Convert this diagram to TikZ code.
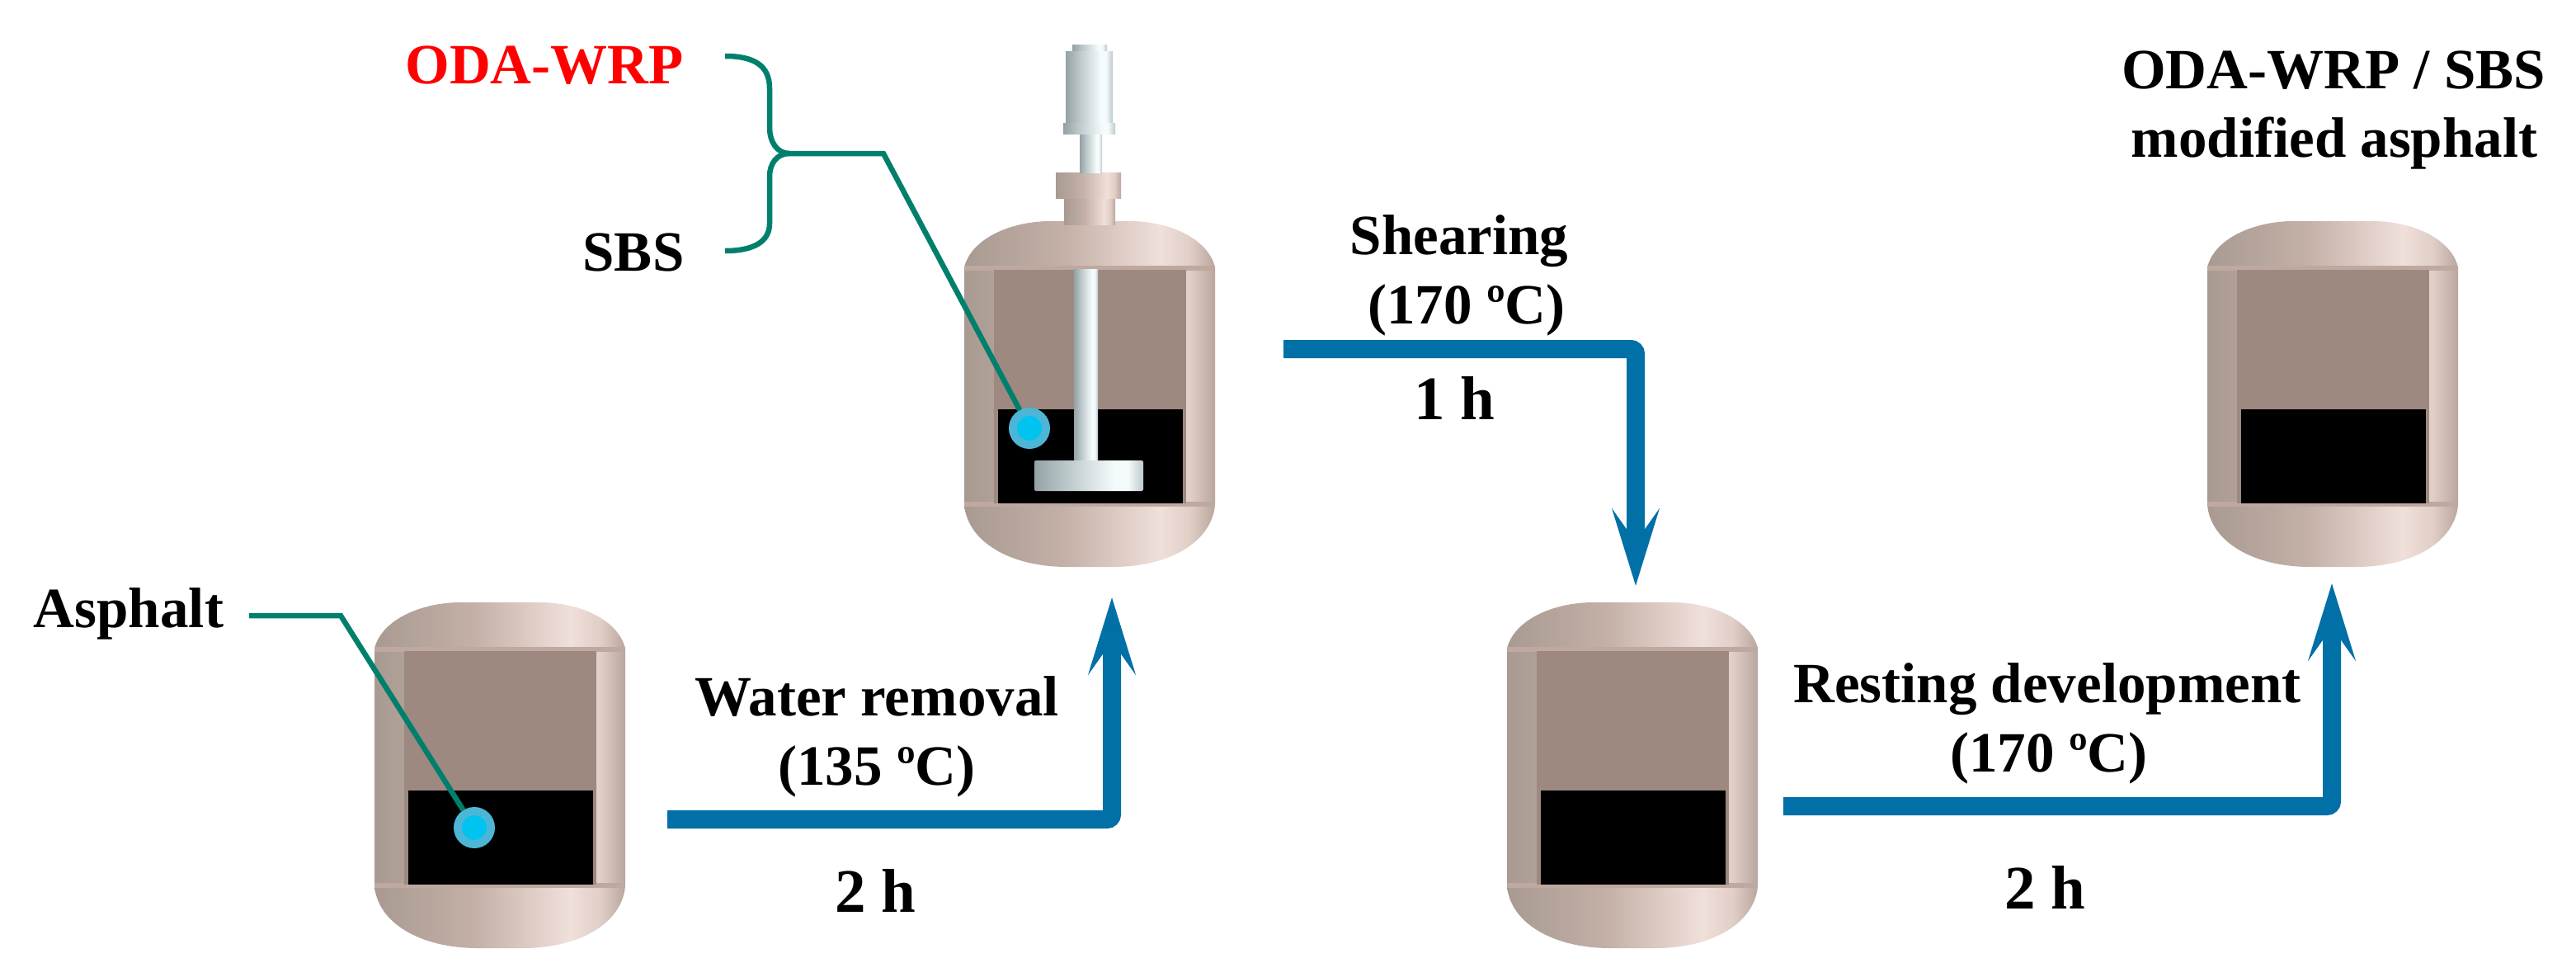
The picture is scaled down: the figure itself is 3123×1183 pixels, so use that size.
\documentclass[tikz,border=0pt]{standalone}
\usepackage{fontspec}
\setmainfont{Liberation Serif}
\usetikzlibrary{arrows.meta}
\definecolor{tankA}{HTML}{A89A92}
\definecolor{tankB}{HTML}{C4B0A7}
\definecolor{tankC}{HTML}{F0E0DA}
\definecolor{tankD}{HTML}{E0CEC7}
\definecolor{tankE}{HTML}{B9A69E}
\definecolor{steelA}{HTML}{95A2A5}
\definecolor{steelB}{HTML}{BCC8CA}
\definecolor{steelC}{HTML}{F5FBFC}
\definecolor{innerbrown}{HTML}{9D8980}
\definecolor{bandbrown}{HTML}{BFA89F}
\definecolor{leadgreen}{HTML}{00806C}
\definecolor{flowblue}{HTML}{0070A6}
\definecolor{blobouter}{HTML}{4DB6D6}
\definecolor{blobinner}{HTML}{00C3F0}
\pgfdeclarehorizontalshading{tankshade}{100bp}{color(0bp)=(tankA); color(25bp)=(tankA); color(45bp)=(tankB); color(64bp)=(tankC); color(70bp)=(tankD); color(75bp)=(tankE); color(100bp)=(tankE)}
\pgfdeclarehorizontalshading{steelshade}{100bp}{color(0bp)=(steelA); color(25bp)=(steelA); color(40bp)=(steelB); color(62bp)=(steelC); color(68bp)=(steelC); color(75bp)=(steelB); color(100bp)=(steelB)}
\tikzset{
  lab/.style={inner sep=0pt,anchor=base,font=\fontsize{69}{80}\selectfont\bfseries},
  timelab/.style={inner sep=0pt,anchor=base,font=\fontsize{75}{80}\selectfont\bfseries},
  leader/.style={draw=leadgreen,line width=6.5pt,line join=miter},
  flow/.style={draw=flowblue,line width=22pt,rounded corners=6pt,-{Stealth[length=93pt,width=57pt,inset=40pt]}},
  blob/.style={circle,fill=blobouter,inner sep=0pt,minimum size=50pt},
  blobcore/.style={circle,fill=blobinner,inner sep=0pt,minimum size=30pt},
  tankbody/.style={shading=tankshade},
  steel/.style={shading=steelshade},
}
\newcommand{\tankat}[2]{%
  \begin{scope}[shift={(#1,#2)}]
    \path[tankbody] (0,56) .. controls (8,22) and (55,0) .. (105,0) -- (200,0)
      .. controls (250,0) and (296,22) .. (304,56) -- (304,344)
      .. controls (300,388) and (250,419) .. (180,419) -- (125,419)
      .. controls (55,419) and (4,388) .. (0,344) -- cycle;
    \fill[bandbrown] (0,54) rectangle (304,60);
    \fill[bandbrown] (0,340) rectangle (304,346);
    \fill[innerbrown] (36,59) rectangle (269,342);
    \fill[black] (41,228) rectangle (265,342);
  \end{scope}}
\begin{document}
\begin{tikzpicture}[x=1pt,y=-1pt]
\useasboundingbox (0,0) rectangle (3123,1183);
\fill[white] (0,0) rectangle (3123,1183);
% tanks
\tankat{454}{730}
\tankat{1169}{268}
\tankat{1827}{730}
\tankat{2676}{268}
% stirrer
\path[tankbody] (1290,236) rectangle (1352,272);
\path[tankbody] (1280,209) rectangle (1359,240);
\path[steel] (1309,162) rectangle (1336,209);
\path[steel] (1300,54) rectangle (1342,66);
\path[steel] (1292,62) rectangle (1349,149);
\path[steel] (1289,149) rectangle (1352,162);
\path[steel] (1302,326) rectangle (1331,560);
\path[steel,rounded corners=2pt] (1254,558) rectangle (1386,595);
% markers
\node[blob] (blobA) at (575,1003) {};
\node[blobcore] (coreA) at (575,1003) {};
\node[blob] (blobB) at (1248,519) {};
\node[blobcore] (coreB) at (1248,519) {};
% leaders
\coordinate (aStart) at (302,746);
\coordinate (aBend) at (413,746);
\draw[leader] (aStart) -- (aBend) -- (blobA);
\coordinate (odaEnd) at (879,68);
\coordinate (sbsEnd) at (879,304);
\coordinate (hub) at (957,186);
\coordinate (hubBend) at (1071,186);
\draw[leader] (odaEnd) .. controls (915,68) and (933,80) .. (933,107) -- (933,154) .. controls (933,172) and (942,186) .. (hub);
\draw[leader] (sbsEnd) .. controls (915,304) and (933,292) .. (933,271) -- (933,214) .. controls (933,198) and (942,186) .. (hub);
\draw[leader] (hub) -- (hubBend) -- (blobB);
% flow arrows
\coordinate (f1s) at (809,993);
\coordinate (f1c) at (1348,993);
\coordinate (f1e) at (1348,724);
\coordinate (f2s) at (1556,423);
\coordinate (f2c) at (1983,423);
\coordinate (f2e) at (1983,710);
\coordinate (f3s) at (2162,977);
\coordinate (f3c) at (2827,977);
\coordinate (f3e) at (2827,707);
\draw[flow] (f1s) -- (f1c) -- (f1e);
\draw[flow] (f2s) -- (f2c) -- (f2e);
\draw[flow] (f3s) -- (f3c) -- (f3e);
% labels
\node[lab] (tAsphalt) at (156,760) {Asphalt};
\node[lab,text=red] (tOda) at (660,101) {ODA-WRP};
\node[lab] (tSbs) at (768,328) {SBS};
\node[lab] (tWater) at (1063,867) {Water removal};
\node[lab] (tWaterT) at (1063,951) {(135 ºC)};
\node[timelab] (tWaterH) at (1061,1105) {2 h};
\node[lab] (tShear) at (1769,308) {Shearing};
\node[lab] (tShearT) at (1778,392) {(170 ºC)};
\node[timelab] (tShearH) at (1763,508) {1 h};
\node[lab] (tRest) at (2482,851) {Resting development};
\node[lab] (tRestT) at (2484,935) {(170 ºC)};
\node[timelab] (tRestH) at (2479,1101) {2 h};
\node[lab] (tProd) at (2829,107) {ODA-WRP / SBS};
\node[lab] (tProdB) at (2830,190) {modified asphalt};
\end{tikzpicture}
\end{document}
